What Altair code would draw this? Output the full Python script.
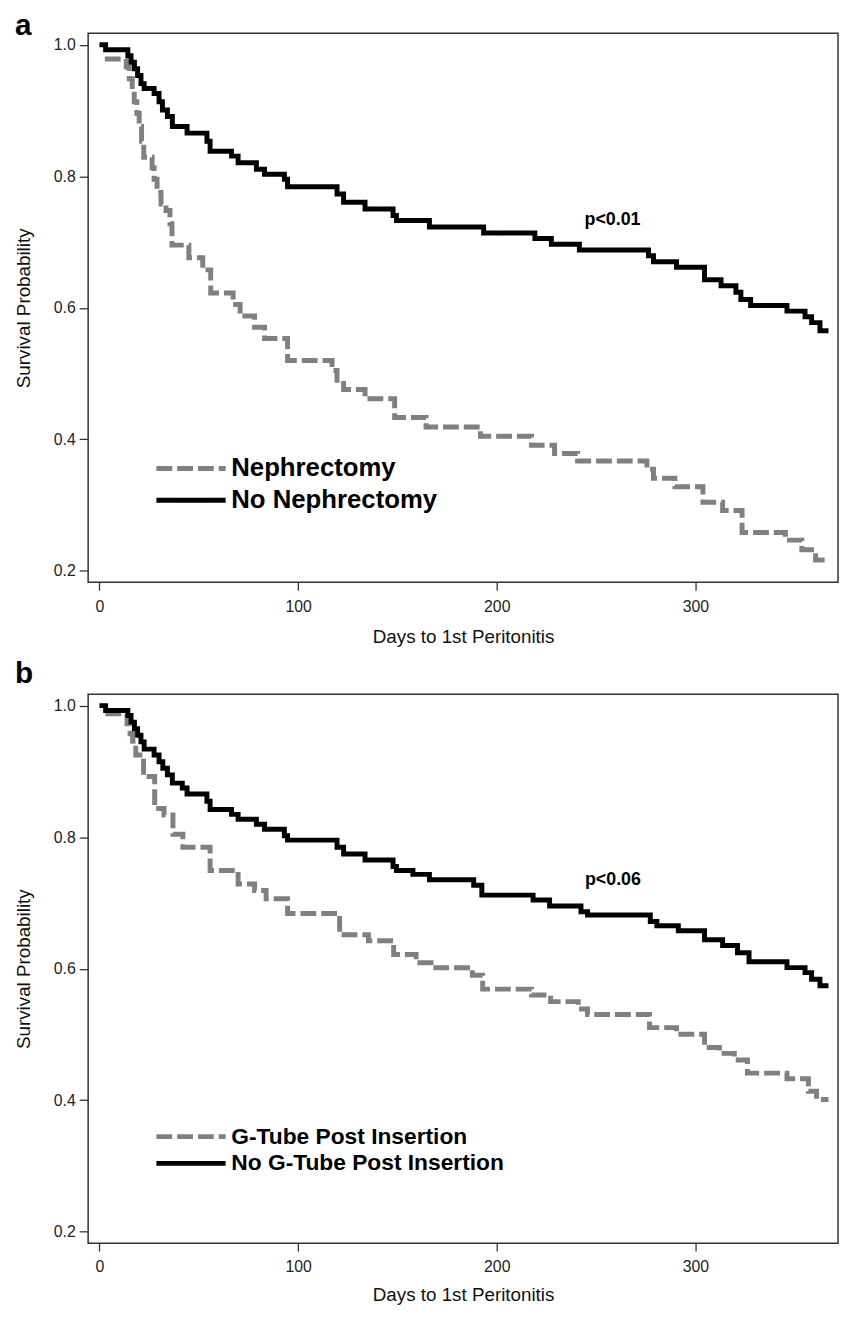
import altair as alt
import pandas as pd

FONT = "Liberation Sans"
GRAY = "#808080"

# ---------------- Panel a ----------------
a_groups = ["Nephrectomy", "No Nephrectomy"]
a_neph_days = [2.7, 13.5, 15.0, 16.5, 17.5, 18.8, 20.0, 21.2, 22.3, 26.5, 27.5, 29.0, 31.0,
               33.5, 35.5, 36.5, 45.0, 52.0, 56.0, 67.3, 70.8, 78.1, 83.1, 94.7, 117.1,
               119.6, 122.9, 133.7, 148.6, 164.4, 191.8, 217.5, 229.1, 240.7, 275.6, 278.9,
               289.7, 303.8, 313.7, 323.5, 345.3, 353.6, 360.5, 367.0]
a_neph_surv = [0.9785, 0.9660, 0.9484, 0.9309, 0.9133, 0.8958, 0.8757, 0.8532, 0.8291, 0.8131,
               0.7955, 0.7755, 0.7579, 0.7479, 0.7279, 0.6953, 0.6762, 0.6577, 0.6226, 0.6051,
               0.5875, 0.5705, 0.5534, 0.5198, 0.5048, 0.4848, 0.4757, 0.4617, 0.4331, 0.4186,
               0.4046, 0.3910, 0.3785, 0.3670, 0.3544, 0.3409, 0.3279, 0.3044, 0.2918, 0.2582,
               0.2467, 0.2320, 0.2166, 0.2166]
a_noneph_days = [0.0, 3.1, 14.3, 15.9, 17.6, 19.2, 20.9, 22.5, 27.5, 30.0, 31.7, 34.2, 36.7,
                 44.1, 54.1, 55.7, 66.5, 69.8, 79.0, 83.1, 93.1, 94.7, 119.6, 122.9, 133.7,
                 147.8, 149.5, 166.1, 193.4, 219.2, 227.5, 241.6, 276.4, 278.9, 290.5, 304.6,
                 312.9, 320.4, 322.9, 327.8, 346.1, 355.2, 358.5, 362.7, 367.0]
a_noneph_surv = [1.0, 0.9925, 0.9835, 0.9735, 0.9635, 0.9534, 0.9409, 0.9334, 0.9259, 0.9134,
                 0.9008, 0.8908, 0.8758, 0.8657, 0.8532, 0.8382, 0.8307, 0.8206, 0.8106, 0.8031,
                 0.7955, 0.7840, 0.7730, 0.7605, 0.7504, 0.7404, 0.7329, 0.7229, 0.7138, 0.7053,
                 0.6968, 0.6878, 0.6792, 0.6702, 0.6617, 0.6427, 0.6337, 0.6236, 0.6126, 0.6036,
                 0.5950, 0.5865, 0.5775, 0.5650, 0.5650]

# ---------------- Panel b ----------------
b_groups = ["G-Tube Post Insertion", "No G-Tube Post Insertion"]
b_gt_days = [3.0, 13.9, 15.4, 16.7, 18.3, 22.2, 27.8, 32.5, 37.0, 42.0, 55.7, 69.8,
             78.1, 83.9, 94.7, 120.9, 135.4, 148.1, 159.4, 166.9, 187.7, 192.9, 217.5, 227.1,
             241.0, 245.7, 276.9, 290.5, 304.6, 312.1, 319.6, 326.2, 346.1, 356.9, 361.0, 367.0]
b_gt_surv = [0.9875, 0.9725, 0.9574, 0.9459, 0.9248, 0.8922, 0.8436, 0.8336, 0.8045,
             0.7845, 0.7494, 0.7288, 0.7188, 0.7063, 0.6838, 0.6516, 0.6426, 0.6215, 0.6090,
             0.6015, 0.5899, 0.5689, 0.5599, 0.5499, 0.5388, 0.5303, 0.5103, 0.5003, 0.4802,
             0.4712, 0.4612, 0.4411, 0.4326, 0.4135, 0.4010, 0.4010]
b_nogt_days = [0.0, 3.1, 14.3, 15.9, 17.6, 19.2, 20.9, 22.5, 27.5, 30.0, 31.9, 34.2, 36.7,
               41.7, 44.1, 54.1, 55.7, 66.5, 69.8, 79.0, 83.1, 93.1, 94.7, 119.6, 122.9, 133.7,
               147.8, 149.5, 157.8, 166.1, 188.4, 192.5, 218.3, 226.6, 242.4, 245.7, 277.3,
               280.6, 291.4, 304.6, 313.7, 321.2, 327.0, 346.1, 355.2, 358.5, 362.7, 367.0]
b_nogt_surv = [1.0, 0.9925, 0.9850, 0.9749, 0.9649, 0.9549, 0.9449, 0.9339, 0.9248, 0.9148,
               0.9048, 0.8947, 0.8822, 0.8747, 0.8657, 0.8546, 0.8421, 0.8346, 0.8271, 0.8195,
               0.8120, 0.8020, 0.7955, 0.7845, 0.7744, 0.7654, 0.7554, 0.7494, 0.7434, 0.7353,
               0.7268, 0.7118, 0.7043, 0.6952, 0.6867, 0.6817, 0.6717, 0.6652, 0.6577, 0.6441,
               0.6351, 0.6241, 0.6106, 0.6016, 0.5940, 0.5840, 0.5740, 0.5740]

x_ticks = [0, 100, 200, 300]
y_ticks = [0.2, 0.4, 0.6, 0.8, 1.0]
p_texts = ["p<0.01", "p<0.06"]
p_days = [258.3, 258.5]
p_surv = [0.7254, 0.7268]
panel_labels = ["a", "b"]


def panel(label, label_dy, groups, d1, s1, d2, s2, ptext, pday, psurv,
          leg_x, leg_y, leg_font, leg_pad, sym_path, xtitle_y):
    df = pd.DataFrame({
        "day": d1 + d2,
        "surv": s1 + s2,
        "group": [groups[0]] * len(d1) + [groups[1]] * len(d2),
    })
    xsc = alt.Scale(domain=[-5.7, 371.8], nice=False, zero=False)
    ysc = alt.Scale(domain=[0.1825, 1.0175], nice=False, zero=False)
    x = alt.X("day:Q", scale=xsc, axis=alt.Axis(
        values=x_ticks, title="Days to 1st Peritonitis", grid=False, domain=False,
        tickSize=8, tickColor="#333", tickWidth=1.3, labelPadding=8,
        labelFont=FONT, labelFontSize=16, labelColor="#222",
        titleFont=FONT, titleFontSize=19, titleFontWeight="normal", titleColor="#111",
        titleBaseline="alphabetic", titleY=xtitle_y))
    y = alt.Y("surv:Q", scale=ysc, axis=alt.Axis(
        values=y_ticks, format=".1f", title="Survival Probability", grid=False, domain=False,
        tickSize=9, tickColor="#333", tickWidth=1.3, labelPadding=4,
        labelFont=FONT, labelFontSize=16, labelColor="#222",
        titleFont=FONT, titleFontSize=19, titleFontWeight="normal", titleColor="#111",
        titleBaseline="alphabetic", titleAngle=270, titleX=-59, titleY=277.5))
    leg = alt.Legend(title=None, orient="none", legendX=leg_x, legendY=leg_y,
                     symbolType=sym_path, symbolSize=400, symbolStrokeWidth=5,
                     labelFont=FONT, labelFontSize=leg_font, labelFontWeight="bold",
                     labelColor="black", rowPadding=leg_pad, labelOffset=4, labelLimit=800)
    color = alt.Color("group:N", scale=alt.Scale(domain=groups, range=[GRAY, "black"]), legend=leg)
    dash = alt.StrokeDash("group:N", scale=alt.Scale(domain=groups, range=[[16, 5], [1, 0]]), legend=leg)

    base = alt.Chart(df)
    gray = base.transform_filter(alt.datum.group == groups[0]).mark_line(
        interpolate="step-after", strokeWidth=5).encode(x=x, y=y, color=color, strokeDash=dash)
    black = base.transform_filter(alt.datum.group == groups[1]).mark_line(
        interpolate="step-after", strokeWidth=5).encode(x=x, y=y, color=color, strokeDash=dash)
    ptxt = alt.Chart(pd.DataFrame({"day": [pday], "surv": [psurv], "t": [ptext]})).mark_text(
        font=FONT, fontSize=18, fontWeight="bold", baseline="alphabetic", align="center",
        color="black").encode(x=x, y=y, text="t:N")
    ltxt = alt.Chart(pd.DataFrame({"t": [label]})).mark_text(
        font=FONT, fontSize=30, fontWeight="bold", baseline="alphabetic", align="left",
        color="black").encode(x=alt.value(-74), y=alt.value(label_dy), text="t:N")
    return alt.layer(gray, black, ptxt, ltxt).properties(width=758, height=555)


pa = panel(panel_labels[0], 2, a_groups, a_neph_days, a_neph_surv, a_noneph_days, a_noneph_surv,
           p_texts[0], p_days[0], p_surv[0],
           114.7, 427, 26, 6, "M-5.87,0H1.13", 61)
pb = panel(panel_labels[1], -11.7, b_groups, b_gt_days, b_gt_surv, b_nogt_days, b_nogt_surv,
           p_texts[1], p_days[1], p_surv[1],
           115.7, 434.8, 23, 2, "M-5.92,0H1.08", 58)


def build(top_pad):
    return alt.vconcat(pa, pb, spacing=10).resolve_scale(
        color="independent", strokeDash="independent").resolve_legend(
        color="independent", strokeDash="independent").properties(
        padding={"left": 6, "top": top_pad, "right": 0, "bottom": 0}
    ).configure_view(stroke="#333", strokeWidth=1.5)


try:
    chart = build(-4.5)
    chart.to_dict()
except Exception:
    chart = build(0)

chart.save("out.html", embed_options={"renderer": "svg", "actions": False})
